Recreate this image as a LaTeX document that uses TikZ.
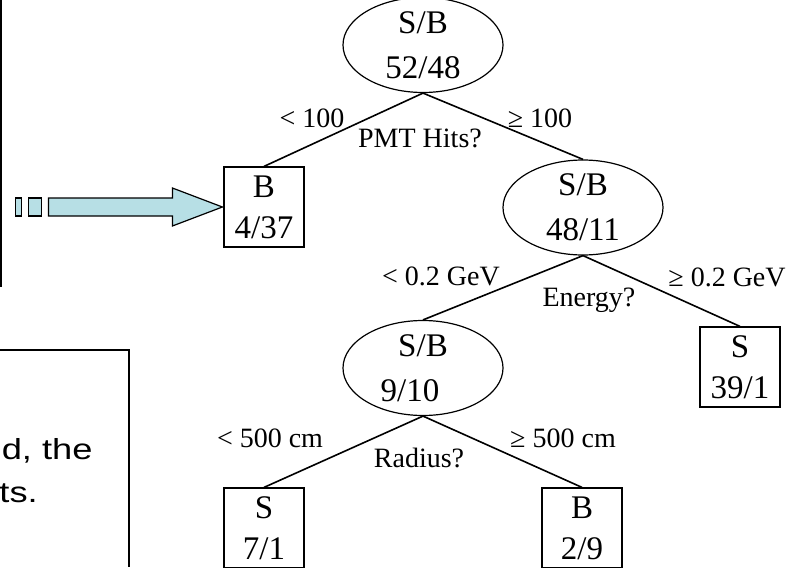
\documentclass[tikz,border=0pt]{standalone}
\usepackage{fontspec}
\setmainfont{Liberation Serif}
\newfontfamily\slidefont{Liberation Sans}
\usetikzlibrary{shapes.geometric}

\tikzset{every picture/.style={line width=0.75pt}}
\tikzset{
  testnode/.style={draw, ellipse, line width=1.2pt, minimum width=160pt, minimum height=82pt, inner sep=0pt, align=center, font=\fontsize{33}{45}\selectfont},
  leafbox/.style={draw, rectangle, line width=1.2pt, minimum width=80pt, minimum height=80pt, inner sep=0pt, align=center, font=\fontsize{33}{41}\selectfont},
  cutlabel/.style={inner sep=0pt, anchor=base, font=\fontsize{28}{30}\selectfont},
  branch/.style={line width=1.6pt},
}
\definecolor{arrowfill}{RGB}{183,223,229}

\begin{document}
\begin{tikzpicture}[x=1pt,y=1pt,yscale=-1,xscale=1]
\useasboundingbox (0,0) rectangle (802,567);

%Tree nodes
\node [testnode, minimum height=85pt] (root) at (423,45) {S/B\\52/48};
\node [leafbox] (hitsleaf) at (264,207) {B\\4/37};
\node [testnode] (energy) at (583,207.5) {S/B\\48/11};
\node [testnode] (radius) at (423,368) {S/B\\\hspace*{-26pt}9/10};
\node [leafbox] (energyleaf) at (740,367) {S\\39/1};
\node [leafbox] (innerleaf) at (264,528) {S\\7/1};
\node [leafbox] (outerleaf) at (582,528) {B\\2/9};

%Straight Lines
\draw [branch] (root.south) -- (hitsleaf.north);
\draw [branch] (root.south) -- (energy.north);
\draw [branch] (energy.south) -- (radius.north);
\draw [branch] (energy.south) -- (energyleaf.north);
\draw [branch] (radius.south) -- (innerleaf.north);
\draw [branch] (radius.south) -- (outerleaf.north);

% Text Node
\node [cutlabel] (lowhits) at (312,127) {< 100};
\node [cutlabel] (hitsq) at (420,147) {PMT Hits?};
\node [cutlabel] (highhits) at (540,127) {≥ 100};
\node [cutlabel] (lowenergy) at (441,285) {< 0.2 GeV};
\node [cutlabel] (energyq) at (589,306) {Energy?};
\node [cutlabel] (highenergy) at (727,286) {≥ 0.2 GeV};
\node [cutlabel] (lowradius) at (270,447) {< 500 cm};
\node [cutlabel] (radiusq) at (419,467) {Radius?};
\node [cutlabel] (highradius) at (563,447) {≥ 500 cm};

%Block arrow into the B leaf
\draw [line width=1.2pt, fill=arrowfill, shift={(hitsleaf.west)}] (-175,-9) -- (-51,-9) -- (-51,-19) -- (-1,0) -- (-51,19) -- (-51,9) -- (-175,9) -- cycle;
\draw [line width=1.2pt, fill=arrowfill, shift={(hitsleaf.west)}] (-208,-9) rectangle (-202,9);
\draw [line width=1.2pt, fill=arrowfill, shift={(hitsleaf.west)}] (-195,-9) rectangle (-182,9);

%Slide panel edges
\draw [line width=1.2pt] (1,0) -- (1,287);
\draw [line width=1.2pt] (0,350) -- (129,350) -- (129,567);
\node [inner sep=0pt, anchor=base east, xscale=1.25, font=\slidefont\fontsize{29}{43}\selectfont] (slidetext) at (93,459) {d, the};
\node [inner sep=0pt, anchor=base west, xscale=1.25, font=\slidefont\fontsize{29}{43}\selectfont] (slidetextb) at (-1,502) {ts.};

\end{tikzpicture}
\end{document}
